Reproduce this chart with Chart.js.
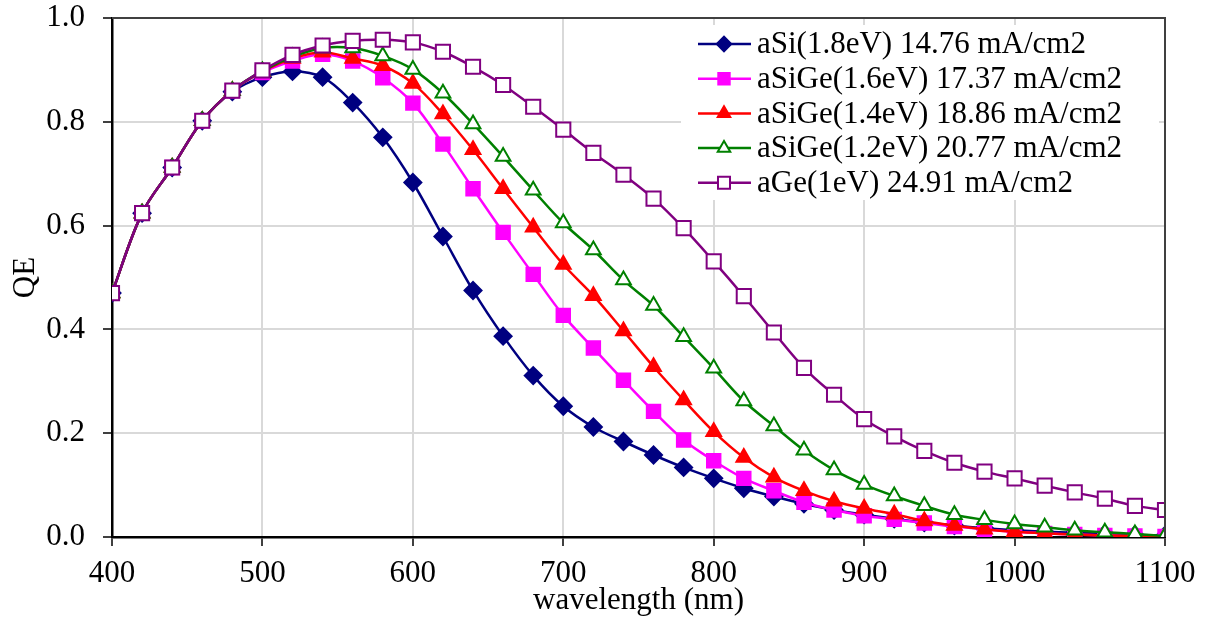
<!DOCTYPE html>
<html>
<head>
<meta charset="utf-8">
<script src="https://cdn.jsdelivr.net/npm/chart.js@4.4.0/dist/chart.umd.min.js"></script>
<style>
  html, body { margin: 0; padding: 0; background: #fff; }
</style>
</head>
<body>
<canvas id="myChart" width="1212" height="618"></canvas>
<script>

// wavelength (nm), every 20 nm
const wavelengths = [400, 420, 440, 460, 480, 500, 520, 540, 560, 580, 600, 620, 640, 660, 680, 700, 720, 740, 760, 780,
                     800, 820, 840, 860, 880, 900, 920, 940, 960, 980, 1000, 1020, 1040, 1060, 1080, 1100];

const qeSi18 = [0.470, 0.624, 0.712, 0.802, 0.858, 0.886, 0.897, 0.886, 0.837, 0.770, 0.683, 0.579, 0.475, 0.387, 0.311, 0.252, 0.212, 0.184,
                0.158, 0.134, 0.113, 0.094, 0.078, 0.064, 0.052, 0.043, 0.035, 0.028, 0.022, 0.017, 0.013, 0.010, 0.008, 0.006, 0.004, 0.003];
const qeSiGe16 = [0.470, 0.624, 0.712, 0.802, 0.860, 0.895, 0.917, 0.930, 0.917, 0.885, 0.836, 0.757, 0.671, 0.587, 0.506, 0.427, 0.364, 0.302,
                  0.242, 0.187, 0.147, 0.113, 0.089, 0.067, 0.052, 0.041, 0.034, 0.027, 0.020, 0.015, 0.010, 0.007, 0.005, 0.003, 0.002, 0.001];
const qeSiGe14 = [0.470, 0.624, 0.712, 0.802, 0.860, 0.897, 0.922, 0.934, 0.922, 0.908, 0.874, 0.815, 0.746, 0.671, 0.597, 0.525, 0.465, 0.397,
                  0.328, 0.264, 0.203, 0.153, 0.115, 0.089, 0.069, 0.055, 0.044, 0.031, 0.022, 0.015, 0.010, 0.007, 0.005, 0.003, 0.002, 0.001];
const qeSiGe12 = [0.470, 0.624, 0.712, 0.802, 0.860, 0.898, 0.925, 0.942, 0.942, 0.927, 0.901, 0.855, 0.796, 0.733, 0.668, 0.605, 0.553, 0.495,
                  0.446, 0.386, 0.325, 0.262, 0.214, 0.167, 0.129, 0.101, 0.079, 0.060, 0.043, 0.033, 0.025, 0.019, 0.013, 0.009, 0.006, 0.002];
const qeGe10 = [0.470, 0.624, 0.712, 0.802, 0.860, 0.899, 0.929, 0.947, 0.956, 0.958, 0.953, 0.935, 0.906, 0.871, 0.829, 0.785, 0.740, 0.698,
                0.652, 0.595, 0.531, 0.464, 0.394, 0.326, 0.274, 0.227, 0.194, 0.166, 0.143, 0.126, 0.113, 0.099, 0.086, 0.074, 0.060, 0.052];

const seriesLabels = ['aSi(1.8eV) 14.76 mA/cm2', 'aSiGe(1.6eV) 17.37 mA/cm2', 'aSiGe(1.4eV) 18.86 mA/cm2',
                      'aSiGe(1.2eV) 20.77 mA/cm2', 'aGe(1eV) 24.91 mA/cm2'];
const xTicks = [400, 500, 600, 700, 800, 900, 1000, 1100];
const yTicks = [0, 0.2, 0.4, 0.6, 0.8, 1.0];

const FONT = 'Liberation Serif, Times New Roman, serif';

function toPoints(values) {
  return values.map((v, i) => ({ x: wavelengths[i], y: v }));
}

function makeSet(label, values, color, style, radius, fill, order) {
  return {
    label: label,
    data: toPoints(values),
    borderColor: color,
    backgroundColor: color,
    borderWidth: 2.5,
    pointStyle: style,
    pointRadius: radius,
    pointHoverRadius: radius,
    pointBackgroundColor: fill,
    pointBorderColor: color,
    pointBorderWidth: 2,
    tension: 0.35,
    order: order
  };
}

// legend box in the upper right, drawn like the spreadsheet one (line + marker + text)
const legendBox = {
  id: 'legendBox',
  afterDraw(chart) {
    const c = chart.ctx;
    const area = chart.chartArea;
    c.save();
    // top and right frame of the plot
    c.strokeStyle = '#404040';
    c.lineWidth = 2;
    c.beginPath();
    c.moveTo(area.left, area.top);
    c.lineTo(area.right, area.top);
    c.lineTo(area.right, area.bottom);
    c.stroke();

    c.fillStyle = '#fff';
    c.fillRect(681, 25, 478, 175);

    chart.data.datasets.forEach((ds, i) => {
      const y = 44 + i * 34.7;
      c.strokeStyle = ds.borderColor;
      c.lineWidth = 2.5;
      c.beginPath();
      c.moveTo(698, y);
      c.lineTo(751, y);
      c.stroke();
      c.fillStyle = ds.pointBackgroundColor;
      c.strokeStyle = ds.pointBorderColor;
      c.lineWidth = 2;
      Chart.helpers.drawPoint(c, { pointStyle: ds.pointStyle, radius: ds.pointRadius * 0.85, rotation: 0, borderWidth: 2 }, 724, y);
      c.fillStyle = '#000';
      c.font = '31px ' + FONT;
      c.textBaseline = 'middle';
      c.textAlign = 'left';
      c.fillText(ds.label, 757, y + 1);
    });
    c.restore();
  }
};

const ctx = document.getElementById('myChart');
const myChart = new Chart(ctx, {
  type: 'line',
  data: {
    datasets: [
      makeSet(seriesLabels[0], qeSi18, '#000080', 'rectRot', 8.5, '#000080', 4),
      makeSet(seriesLabels[1], qeSiGe16, '#FF00FF', 'rect', 9.5, '#FF00FF', 3),
      makeSet(seriesLabels[2], qeSiGe14, '#FF0000', 'triangle', 8.5, '#FF0000', 2),
      makeSet(seriesLabels[3], qeSiGe12, '#008000', 'triangle', 8.5, '#FFFFFF', 1),
      makeSet(seriesLabels[4], qeGe10, '#800080', 'rect', 10, '#FFFFFF', 0)
    ]
  },
  options: {
    responsive: false,
    animation: false,
    devicePixelRatio: 1,
    layout: { padding: { top: 18, right: 47, left: 0, bottom: 0 } },
    plugins: {
      legend: { display: false },
      tooltip: { enabled: false }
    },
    scales: {
      x: {
        type: 'linear',
        min: 400,
        max: 1100,
        afterFit(scale) { scale.height = 81; scale.paddingLeft = 0; scale.paddingRight = 0; },
        afterBuildTicks(scale) { scale.ticks = xTicks.map(v => ({ value: v })); },
        grid: { color: '#d9d9d9', lineWidth: 2, tickColor: '#000', tickLength: 9, tickWidth: 1.5 },
        border: { color: '#000', width: 2.5 },
        ticks: { color: '#000', padding: 9, maxRotation: 0, font: { family: FONT, size: 31 },
                 callback: v => String(v) },
        title: { display: true, text: 'wavelength (nm)', color: '#000', padding: { top: 0, bottom: 2 },
                 font: { family: FONT, size: 31, lineHeight: 1 } }
      },
      y: {
        min: 0,
        max: 1.0,
        afterFit(scale) { scale.width = 112; scale.paddingTop = 0; scale.paddingBottom = 0; },
        afterBuildTicks(scale) { scale.ticks = yTicks.map(v => ({ value: v })); },
        grid: { color: '#d9d9d9', lineWidth: 2, tickColor: '#000', tickLength: 9, tickWidth: 1.5 },
        border: { color: '#000', width: 2.5 },
        ticks: { color: '#000', padding: 18, font: { family: FONT, size: 31 },
                 callback: v => v.toFixed(1) },
        title: { display: true, text: 'QE', color: '#000', padding: { top: 10, bottom: 0 },
                 font: { family: FONT, size: 31, lineHeight: 1 } }
      }
    }
  },
  plugins: [legendBox]
});

</script>
</body>
</html>
